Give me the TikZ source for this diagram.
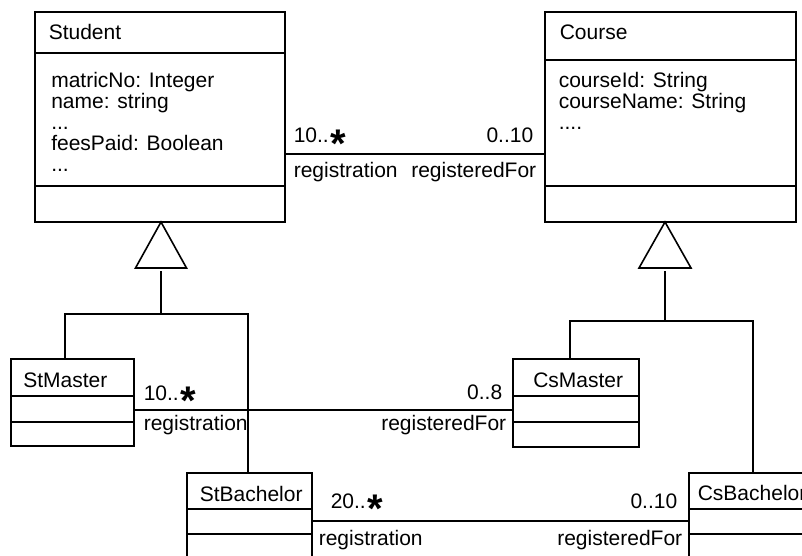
\documentclass[tikz,border=0pt]{standalone}
\usepackage{fontspec}
\setmainfont{Liberation Sans}
\newcommand{\manystar}{\kern2pt\raisebox{-14.5pt}[0pt][0pt]{\fontsize{40}{40}\selectfont\bfseries *}}

\begin{document}
\begin{tikzpicture}[x=1pt, y=-1pt, line width=1.6pt,
        every node/.style={inner sep=0pt, font=\fontsize{21}{21}\selectfont},
        class/.style={draw, anchor=north west, outer sep=0pt}]

            \useasboundingbox (0,0) rectangle (802,556);
            \clip (0,0) rectangle (802,556);

            \node[class, minimum width=250pt, minimum height=210pt] (student) at (35,12) {};
            \node[class, minimum width=251pt, minimum height=210pt] (course) at (545,12) {};
            \node[class, minimum width=123pt, minimum height=87pt] (stMaster) at (11,359) {};
            \node[class, minimum width=126pt, minimum height=88pt] (csMaster) at (513,359) {};
            \node[class, minimum width=125pt, minimum height=100pt] (stBachelor) at (187,473) {};
            \node[class, minimum width=140pt, minimum height=100pt] (csBachelor) at (689,473) {};

            \draw (student.west |- 0,53) -- (student.east |- 0,53);
            \draw (student.west |- 0,186) -- (student.east |- 0,186);
            \draw (course.west |- 0,60) -- (course.east |- 0,60);
            \draw (course.west |- 0,186) -- (course.east |- 0,186);
            \draw (stMaster.west |- 0,396) -- (stMaster.east |- 0,396);
            \draw (stMaster.west |- 0,422) -- (stMaster.east |- 0,422);
            \draw (csMaster.west |- 0,396) -- (csMaster.east |- 0,396);
            \draw (csMaster.west |- 0,422) -- (csMaster.east |- 0,422);
            \draw (stBachelor.west |- 0,509) -- (stBachelor.east |- 0,509);
            \draw (stBachelor.west |- 0,534) -- (stBachelor.east |- 0,534);
            \draw (csBachelor.west |- 0,509) -- (csBachelor.east |- 0,509);
            \draw (csBachelor.west |- 0,534) -- (csBachelor.east |- 0,534);

            \node[anchor=base west] (studentName) at (48,40) {Student};
            \node[anchor=north west, align=left] (studentAttr) at (50.5,71)
                {matricNo: Integer\\name: string\\...\\feesPaid: Boolean\\...};
            \node[anchor=base west] (courseName) at (559,40) {Course};
            \node[anchor=north west, align=left] (courseAttr) at (558,71)
                {courseId: String\\courseName: String\\....};
            \node[anchor=base west] (stMasterName) at (22.5,387) {StMaster};
            \node[anchor=base west] (csMasterName) at (532.5,387) {CsMaster};
            \node[anchor=base west] (stBachelorName) at (199,501) {StBachelor};
            \node[anchor=base west] (csBachelorName) at (697,500) {CsBachelor};

            \coordinate (stApex) at (161,222);
            \coordinate (stBase) at (161,271);
            \coordinate (stFork) at (161,314);
            \draw (stApex) -- ++(-25.5,46) -- ++(51,0) -- cycle;
            \draw (stBase) -- (stFork);
            \draw ([xshift=54pt]stMaster.north west) |- (stFork) -| ([xshift=61pt]stBachelor.north west);

            \coordinate (csApex) at (665,222);
            \coordinate (csBase) at (665,271);
            \coordinate (csFork) at (665,321);
            \draw (csApex) -- ++(-26,46) -- ++(52,0) -- cycle;
            \draw (csBase) -- (csFork);
            \draw ([xshift=57pt]csMaster.north west) |- (csFork) -| ([xshift=64pt]csBachelor.north west);

            \draw (student.east |- 0,154) -- (course.west |- 0,154);
            \node[anchor=base west] (regMultA) at (293,143) {10..\manystar};
            \node[anchor=base east] (forMultA) at (534,143) {0..10};
            \node[anchor=base west] (regRoleA) at (293,178) {registration};
            \node[anchor=base east] (forRoleA) at (537,178) {registeredFor};

            \draw (stMaster.east |- 0,410) -- (csMaster.west |- 0,410);
            \node[anchor=base west] (regMultB) at (143,400) {10..\manystar};
            \node[anchor=base east] (forMultB) at (503,399) {0..8};
            \node[anchor=base west] (regRoleB) at (143,430) {registration};
            \node[anchor=base east] (forRoleB) at (507,430) {registeredFor};

            \draw (stBachelor.east |- 0,521) -- (csBachelor.west |- 0,521);
            \node[anchor=base west] (regMultC) at (330,508) {20..\manystar};
            \node[anchor=base east] (forMultC) at (678,508) {0..10};
            \node[anchor=base west] (regRoleC) at (318,545) {registration};
            \node[anchor=base east] (forRoleC) at (683,545) {registeredFor};

        \end{tikzpicture}
\end{document}
